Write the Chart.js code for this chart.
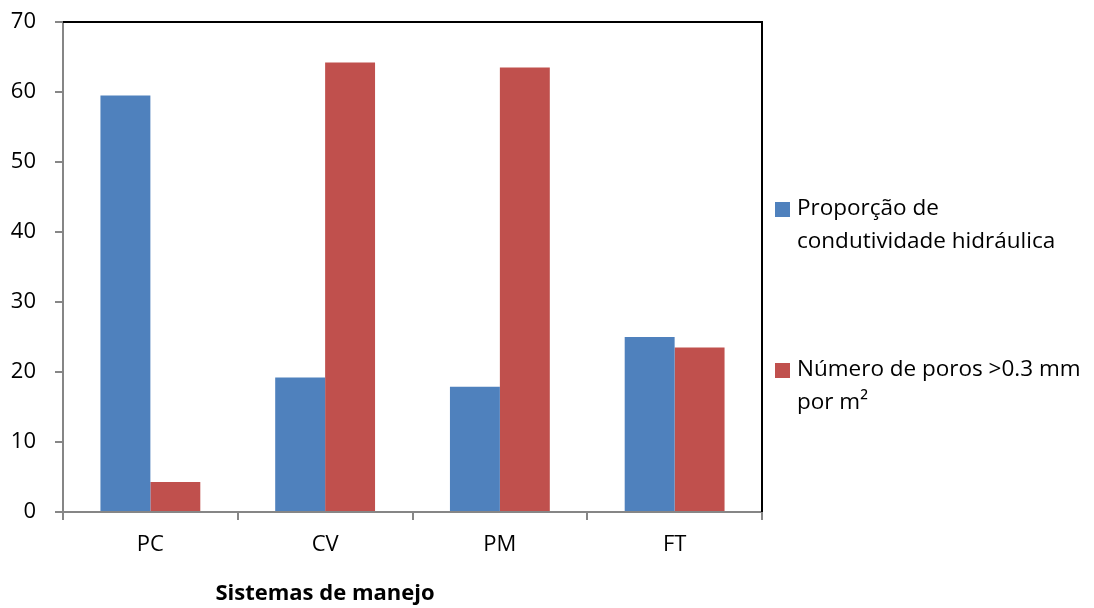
<!DOCTYPE html>
<html>
<head>
<meta charset="utf-8">
<script src="https://cdn.jsdelivr.net/npm/chart.js@4/dist/chart.umd.min.js"></script>
<style>
  html, body { margin: 0; padding: 0; background: #ffffff; }
  #wrap { width: 1094px; height: 608px; position: relative; }
</style>
</head>
<body>
<div id="wrap"><canvas id="c" width="1094" height="608"></canvas></div>
<script>
// Sistemas de manejo e valores por série
const categories = ['PC', 'CV', 'PM', 'FT'];
const condutividade = [59.5, 19.2, 17.9, 25.0];
const poros = [4.3, 64.2, 63.5, 23.5];
const seriesLabels = [
  ['Proporção de', 'condutividade hidráulica'],
  ['Número de poros >0.3 mm', 'por m²']
];
const yTicks = [0, 10, 20, 30, 40, 50, 60, 70];
const xTitle = 'Sistemas de manejo';

const FONT = "'Open Sans', 'DejaVu Sans', sans-serif";
const BLUE = '#4F81BD';
const RED = '#C0504D';
const AXIS = '#868686';

// Black frame on the top and right of the plot, legend and axis title
const decorations = {
  id: 'decorations',
  afterDraw(chart) {
    const { ctx, chartArea: a } = chart;
    ctx.save();
    ctx.strokeStyle = '#000000';
    ctx.lineWidth = 2;
    ctx.beginPath();
    ctx.moveTo(a.left, a.top);
    ctx.lineTo(a.right, a.top);
    ctx.lineTo(a.right, a.bottom);
    ctx.stroke();

    // legend
    ctx.font = '22.5px ' + FONT;
    ctx.textBaseline = 'middle';
    ctx.fillStyle = '#000000';
    const lx = a.right + 13;
    const entryY = [209, 370];
    chart.data.datasets.forEach((ds, i) => {
      const y0 = entryY[i];
      ctx.fillStyle = ds.backgroundColor;
      ctx.fillRect(lx, y0 - 7, 15, 15);
      ctx.fillStyle = '#000000';
      ds.label.forEach((line, j) => {
        ctx.fillText(line, lx + 22, y0 + j * 33);
      });
    });

    // x-axis title
    ctx.font = 'bold 22px ' + FONT;
    ctx.textAlign = 'center';
    ctx.fillText(xTitle, 325, 594);
    ctx.restore();
  }
};

new Chart(document.getElementById('c'), {
  type: 'bar',
  data: {
    labels: categories,
    datasets: [
      { label: seriesLabels[0], data: condutividade, backgroundColor: BLUE,
        categoryPercentage: 100 / 175, barPercentage: 1.0 },
      { label: seriesLabels[1], data: poros, backgroundColor: RED,
        categoryPercentage: 100 / 175, barPercentage: 1.0 }
    ]
  },
  options: {
    responsive: false,
    animation: false,
    devicePixelRatio: 1,
    layout: { padding: { top: 22, right: 332, bottom: 0, left: 0 } },
    plugins: {
      legend: { display: false },
      tooltip: { enabled: false }
    },
    scales: {
      x: {
        grid: { display: true, offset: true, drawOnChartArea: false, color: AXIS, lineWidth: 2, tickLength: 8 },
        border: { display: true, color: AXIS, width: 2 },
        ticks: { color: '#000000', font: { family: FONT, size: 22 }, padding: 12 },
        afterFit(scale) { scale.height = 96; scale.paddingLeft = 0; scale.paddingRight = 0; }
      },
      y: {
        min: 0,
        max: 70,
        afterBuildTicks(scale) { scale.ticks = yTicks.map(v => ({ value: v })); },
        grid: { display: true, drawOnChartArea: false, color: AXIS, lineWidth: 2, tickLength: 8 },
        border: { display: true, color: AXIS, width: 2 },
        ticks: { color: '#000000', font: { family: FONT, size: 22 }, padding: 19 },
        afterFit(scale) { scale.width = 63; scale.paddingTop = 0; scale.paddingBottom = 0; }
      }
    }
  },
  plugins: [decorations]
});
</script>
</body>
</html>
